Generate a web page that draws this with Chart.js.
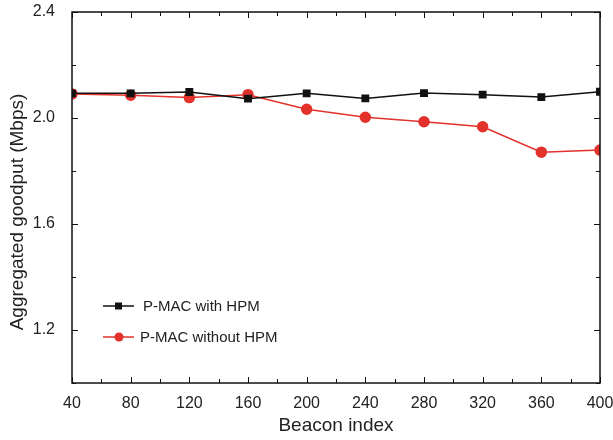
<!DOCTYPE html>
<html>
<head>
<meta charset="utf-8">
<script src="https://cdn.jsdelivr.net/npm/chart.js@4/dist/chart.umd.min.js"></script>
<style>
  html, body { margin: 0; padding: 0; background: #fff; }
  #wrap { width: 613px; height: 440px; }
</style>
</head>
<body>
<div id="wrap"><canvas id="goodputChart" width="613" height="440"></canvas></div>
<script>
// beacon index on x, goodput (Mbps) on y
const beaconIndex = [40, 80, 120, 160, 200, 240, 280, 320, 360, 400];
const withHpm    = [2.093, 2.093, 2.098, 2.073, 2.093, 2.074, 2.094, 2.088, 2.079, 2.099];
const withoutHpm = [2.091, 2.086, 2.077, 2.088, 2.033, 2.003, 1.986, 1.967, 1.871, 1.879];
const yTicks = [1.2, 1.6, 2.0, 2.4];
const yTitle = 'Aggregated goodput (Mbps)';

const FONT = '"Liberation Sans", Arial, sans-serif';
const RED = '#e2322b';

// frame around the plot plus inward tick marks (major and minor)
const framePlugin = {
    id: 'frame',
    afterDraw(chart) {
        const { ctx, chartArea: a, scales: { x, y } } = chart;
        ctx.save();
        ctx.strokeStyle = '#111';
        ctx.lineWidth = 1.5;
        ctx.strokeRect(a.left, a.top, a.right - a.left, a.bottom - a.top);
        ctx.lineWidth = 1;
        ctx.beginPath();
        for (let v = 40; v <= 400; v += 20) {
            const px = Math.round(x.getPixelForValue(v)) + 0.5;
            const len = v % 40 === 0 ? 6 : 4;
            ctx.moveTo(px, a.bottom); ctx.lineTo(px, a.bottom - len);
            ctx.moveTo(px, a.top); ctx.lineTo(px, a.top + len);
        }
        for (let k = 0; k <= 7; k++) {
            const v = 1.0 + k * 0.2;
            const py = Math.round(y.getPixelForValue(v)) + 0.5;
            const len = k % 2 === 1 ? 6 : 4;
            ctx.moveTo(a.left, py); ctx.lineTo(a.left + len, py);
            ctx.moveTo(a.right, py); ctx.lineTo(a.right - len, py);
        }
        ctx.stroke();

        // y title sits a little below the axis middle
        ctx.fillStyle = '#222';
        ctx.font = '19px ' + FONT;
        ctx.textAlign = 'center';
        ctx.textBaseline = 'alphabetic';
        ctx.translate(0, 212);
        ctx.rotate(-Math.PI / 2);
        ctx.fillText(yTitle, 0, 23);
        ctx.restore();
    }
};

// legend drawn inside the plot, lower left
const innerLegend = {
    id: 'innerLegend',
    afterDraw(chart) {
        const { ctx } = chart;
        const x0 = 103, rows = [306, 337];
        ctx.save();
        chart.data.datasets.forEach((ds, i) => {
            const yy = rows[i];
            ctx.strokeStyle = ds.borderColor;
            ctx.lineWidth = 1.5;
            ctx.beginPath();
            ctx.moveTo(x0, yy); ctx.lineTo(x0 + 31, yy);
            ctx.stroke();
            ctx.fillStyle = ds.backgroundColor;
            if (ds.pointStyle === 'rect') {
                ctx.fillRect(x0 + 12, yy - 3.5, 7, 7);
            } else {
                ctx.beginPath();
                ctx.arc(x0 + 16, yy, 4.5, 0, Math.PI * 2);
                ctx.fill();
            }
            ctx.fillStyle = '#222';
            ctx.font = '15px ' + FONT;
            ctx.textBaseline = 'middle';
            ctx.fillText(ds.label, i === 0 ? x0 + 40 : x0 + 37, yy + 1);
        });
        ctx.restore();
    }
};

new Chart(document.getElementById('goodputChart'), {
    type: 'line',
    data: {
        datasets: [
            {
                label: 'P-MAC with HPM',
                data: beaconIndex.map((b, i) => ({ x: b, y: withHpm[i] })),
                borderColor: '#111',
                backgroundColor: '#111',
                borderWidth: 1.5,
                pointStyle: 'rect',
                pointRadius: 4.5,
                tension: 0
            },
            {
                label: 'P-MAC without HPM',
                data: beaconIndex.map((b, i) => ({ x: b, y: withoutHpm[i] })),
                borderColor: RED,
                backgroundColor: RED,
                borderWidth: 1.5,
                pointStyle: 'circle',
                pointRadius: 5,
                tension: 0
            }
        ]
    },
    options: {
        responsive: false,
        animation: false,
        layout: { padding: { top: 12, right: 13, left: 0, bottom: 0 } },
        plugins: { legend: { display: false }, tooltip: { enabled: false } },
        scales: {
            x: {
                type: 'linear',
                min: 40,
                max: 400,
                border: { display: false },
                grid: { display: false },
                afterBuildTicks: s => { s.ticks = beaconIndex.map(v => ({ value: v })); },
                afterFit: s => { s.height = 57; s.paddingLeft = 0; s.paddingRight = 0; },
                ticks: { color: '#222', font: { family: FONT, size: 16 }, padding: 3, maxRotation: 0 },
                title: {
                    display: true,
                    text: 'Beacon index',
                    color: '#222',
                    font: { family: FONT, size: 19 },
                    padding: { top: 0, bottom: 3 }
                }
            },
            y: {
                min: 1.0,
                max: 2.4,
                border: { display: false },
                grid: { display: false },
                afterBuildTicks: s => { s.ticks = yTicks.map(v => ({ value: v })); },
                afterFit: s => { s.width = 72; s.paddingTop = 0; s.paddingBottom = 0; },
                ticks: {
                    color: '#222',
                    font: { family: FONT, size: 16 },
                    padding: 9,
                    callback: v => v.toFixed(1)
                }
            }
        }
    },
    plugins: [framePlugin, innerLegend]
});
</script>
</body>
</html>
